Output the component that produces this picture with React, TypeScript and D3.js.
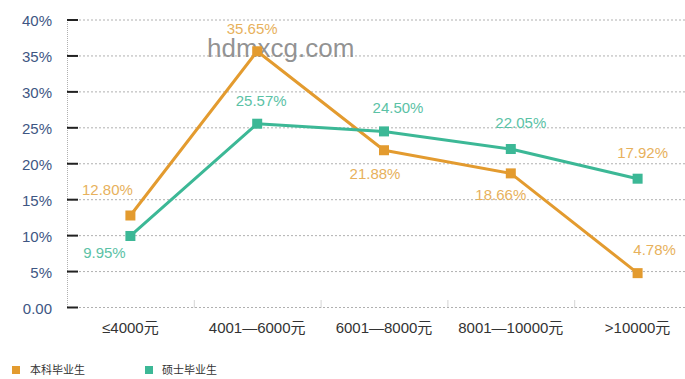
import React from "react";
import * as d3 from "d3";

const categories = ["≤4000元", "4001—6000元", "6001—8000元", "8001—10000元", ">10000元"];
const seriesNames = ["本科毕业生", "硕士毕业生"];
const bachelorValues = [12.8, 35.65, 21.88, 18.66, 4.78];
const masterValues = [9.95, 25.57, 24.5, 22.05, 17.92];
const yTicks = [0, 5, 10, 15, 20, 25, 30, 35, 40];
const yTickLabels = ["0.00", "5%", "10%", "15%", "20%", "25%", "30%", "35%", "40%"];

const W = 685;
const H = 379;
const FONT = '"Liberation Sans", Arial, "Noto Sans CJK SC", sans-serif';
const ORANGE = "#E39B2F";
const TEAL = "#3CB896";
const ORANGE_LABEL = "#E7B15C";
const TEAL_LABEL = "#5BC2A6";

// label offsets (layout only)
const bachelorLabelOffsets = [[-23, -21], [-5, -17], [-9, 29], [-10, 27], [17, -18]];
const masterLabelOffsets = [[-26, 22], [4, -18], [14, -18], [10, -21], [5, -21]];
const masterLabelColors = [TEAL_LABEL, TEAL_LABEL, TEAL_LABEL, TEAL_LABEL, ORANGE_LABEL];

export default function App() {
  const x = d3.scaleBand<string>().domain(categories).range([67, 701]).padding(0);
  const y = d3.scaleLinear().domain([0, 40]).range([307.5, 20]);
  const cx = (c: string) => (x(c) as number) + x.bandwidth() / 2;
  const line = d3
    .line<number>()
    .x((_, i) => cx(categories[i]))
    .y((d) => y(d));

  const series = [
    { name: seriesNames[0], values: bachelorValues, color: ORANGE, offsets: bachelorLabelOffsets, labelColors: bachelorValues.map(() => ORANGE_LABEL) },
    { name: seriesNames[1], values: masterValues, color: TEAL, offsets: masterLabelOffsets, labelColors: masterLabelColors },
  ];

  const sq = 10;

  return (
    <svg
      width={W}
      height={H}
      style={{ position: "absolute", left: 0, top: 0, background: "#fff" }}
      fontFamily={FONT}
    >
      {/* grid */}
      {yTicks.map((t) => (
        <line key={"g" + t} x1={67} x2={W} y1={y(t)} y2={y(t)} stroke="#b0b0b0" strokeWidth={1} strokeDasharray="2,2" />
      ))}
      {/* y axis dotted */}
      <line x1={67.5} x2={67.5} y1={y(40)} y2={y(0)} stroke="#b0b0b0" strokeWidth={1} strokeDasharray="1,1" />
      {/* y ticks (dark short dashes) */}
      {yTicks.map((t) => (
        <line key={"t" + t} x1={67} x2={78} y1={y(t)} y2={y(t)} stroke="#222" strokeWidth={2} />
      ))}
      {/* y labels */}
      {yTicks.map((t, i) => (
        <text key={"yl" + t} x={52} y={y(t) + 6} textAnchor="end" fontSize={15} fill="#3E5683">
          {yTickLabels[i]}
        </text>
      ))}
      {/* x ticks */}
      {categories.slice(1).map((c) => (
        <line key={"xt" + c} x1={(x(c) as number) + 0.5} x2={(x(c) as number) + 0.5} y1={y(0) - 7} y2={y(0)} stroke="#aaa" strokeWidth={1} strokeDasharray="1,1" />
      ))}
      {/* x labels */}
      {categories.map((c) => (
        <text key={"xl" + c} x={cx(c)} y={333} textAnchor="middle" fontSize={15} fill="#333">
          {c}
        </text>
      ))}
      {/* watermark */}
      <text x={207} y={57} fontSize={26} fill="#808080" fillOpacity={0.85}>
        hdmxcg.com
      </text>
      {/* lines */}
      {series.map((s) => (
        <path key={"l" + s.name} d={line(s.values) || ""} fill="none" stroke={s.color} strokeWidth={3} strokeLinejoin="round" />
      ))}
      {series.map((s) =>
        s.values.map((v, i) => (
          <rect key={"m" + s.name + i} x={cx(categories[i]) - sq / 2} y={y(v) - sq / 2} width={sq} height={sq} fill={s.color} />
        ))
      )}
      {/* data labels */}
      {series.map((s) =>
        s.values.map((v, i) => (
          <text
            key={"dl" + s.name + i}
            x={cx(categories[i]) + s.offsets[i][0]}
            y={y(v) + s.offsets[i][1]}
            textAnchor="middle"
            fontSize={15}
            fill={s.labelColors[i]}
          >
            {v.toFixed(2) + "%"}
          </text>
        ))
      )}
      {/* legend */}
      {series.map((s, i) => (
        <g key={"lg" + s.name} transform={`translate(${i === 0 ? 12 : 145},366)`}>
          <rect x={0} y={0} width={8} height={8} fill={s.color} />
          <text x={i === 0 ? 18 : 17} y={8} fontSize={11} fill="#333">
            {s.name}
          </text>
        </g>
      ))}
    </svg>
  );
}
